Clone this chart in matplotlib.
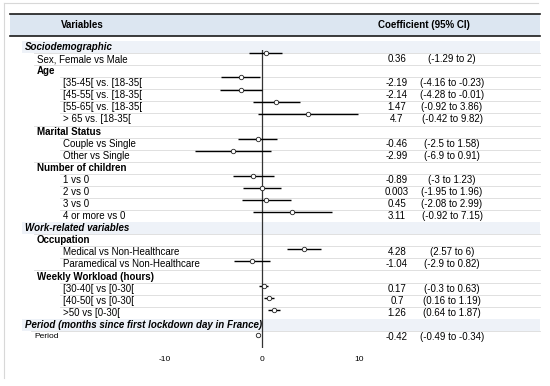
import matplotlib
matplotlib.use("Agg")
import matplotlib.pyplot as plt

plt.rcParams['font.family'] = ['Liberation Sans', 'DejaVu Sans']
plt.rcParams['axes.unicode_minus'] = False

# rows of the table: label and kind
labels = ["Sociodemographic", "Sex, Female vs Male", "Age",
          "[35-45[ vs. [18-35[", "[45-55[ vs. [18-35[", "[55-65[ vs. [18-35[", "> 65 vs. [18-35[",
          "Marital Status", "Couple vs Single", "Other vs Single",
          "Number of children", "1 vs 0", "2 vs 0", "3 vs 0", "4 or more vs 0",
          "Work-related variables", "Occupation",
          "Medical vs Non-Healthcare", "Paramedical vs Non-Healthcare",
          "Weekly Workload (hours)", "[30-40[ vs [0-30[", "[40-50[ vs [0-30[", ">50 vs [0-30[",
          "Period (months since first lockdown day in France)", "Period"]
kinds = ["group", "item1", "sub", "item2", "item2", "item2", "item2",
         "sub", "item2", "item2",
         "sub", "item2", "item2", "item2", "item2",
         "group", "sub", "item2", "item2",
         "sub", "item2", "item2", "item2",
         "group", "small"]

# estimates, one per item row (in order)
coef = [0.36, -2.19, -2.14, 1.47, 4.7, -0.46, -2.99, -0.89, 0.003, 0.45, 3.11,
        4.28, -1.04, 0.17, 0.7, 1.26, -0.42]
ci_low = [-1.29, -4.16, -4.28, -0.92, -0.42, -2.5, -6.9, -3, -1.95, -2.08, -0.92,
          2.57, -2.9, -0.3, 0.16, 0.64, -0.49]
ci_high = [2, -0.23, -0.01, 3.86, 9.82, 1.58, 0.91, 1.23, 1.96, 2.99, 7.15,
           6, 0.82, 0.63, 1.19, 1.87, -0.34]
xticks = [-10, 0, 10]

W, H = 550, 386
fig = plt.figure(figsize=(W / 100, H / 100), dpi=100)

# table layer in pixel coordinates
tab = fig.add_axes([0, 0, 1, 1])
tab.set_xlim(0, W)
tab.set_ylim(H, 0)
tab.axis('off')

row_y0, row_dy = 47, 12.08
indent = {"group": 25, "sub": 37, "item1": 37, "item2": 63, "small": 34}
right_edge = 540

# window edge
tab.plot([4, 4], [3, 378], color='#d8d8d8', lw=0.8)
tab.plot([4, 538], [3, 3], color='#d8d8d8', lw=0.8)

# header
tab.fill_between([10, right_edge], 14, 36, color='#dce6f1', lw=0)
tab.plot([10, right_edge], [14, 14], color='#1a1a1a', lw=1.2)
tab.plot([10, right_edge], [36, 36], color='#1a1a1a', lw=1.2)
tab.text(82, 25.5, "Variables", ha='center', va='center', fontsize=7, fontweight='bold')
tab.text(424, 25.5, "Coefficient (95% CI)", ha='center', va='center', fontsize=7,
         fontweight='bold')

item_rows = []
for i, (lab, kind) in enumerate(zip(labels, kinds)):
    y = row_y0 + i * row_dy
    if kind == "group":
        tab.fill_between([22, right_edge], y - row_dy / 2, y + row_dy / 2,
                         color='#eef2f8', lw=0)
        tab.text(indent[kind], y, lab, ha='left', va='center', fontsize=7,
                 fontweight='bold', fontstyle='italic')
        continue
    tab.plot([indent[kind] - 3, right_edge], [y - row_dy / 2] * 2, color='#dadada', lw=0.6)
    if kind == "sub":
        tab.text(indent[kind], y, lab, ha='left', va='center', fontsize=7, fontweight='bold')
    elif kind == "small":
        tab.text(indent[kind], y, lab, ha='left', va='center', fontsize=6)
        item_rows.append(i)
    else:
        tab.text(indent[kind], y, lab, ha='left', va='center', fontsize=7)
        item_rows.append(i)

for i, c, lo, hi in zip(item_rows, coef, ci_low, ci_high):
    y = row_y0 + i * row_dy
    tab.text(397, y, f"{c:g}", ha='center', va='center', fontsize=7)
    tab.text(452, y, f"({lo:g} to {hi:g})", ha='center', va='center', fontsize=7)

# forest plot layer
mark_y0, mark_dy = 40.7, 12.26
px_left, px_right, px_top, px_bot = 145, 379, 50, 348
ax = fig.add_axes([px_left / W, 1 - px_bot / H, (px_right - px_left) / W, (px_bot - px_top) / H])
ax.patch.set_alpha(0)
ax.set_xlim(-12, 12)
ax.set_ylim((px_bot - mark_y0) / mark_dy, (px_top - mark_y0) / mark_dy)
for s in ax.spines.values():
    s.set_visible(False)
ax.axvline(0, color='#333333', lw=0.9, zorder=1)
ax.hlines(item_rows, ci_low, ci_high, color='black', lw=1.0, zorder=2)
ax.plot(coef, item_rows, 'o', ms=3.2, mfc='white', mec='#222222', mew=0.6, zorder=3)
ax.set_xticks(xticks)
ax.set_yticks([])
ax.tick_params(axis='x', length=0, labelsize=6, pad=6)

fig.savefig("out.png", dpi=100)
